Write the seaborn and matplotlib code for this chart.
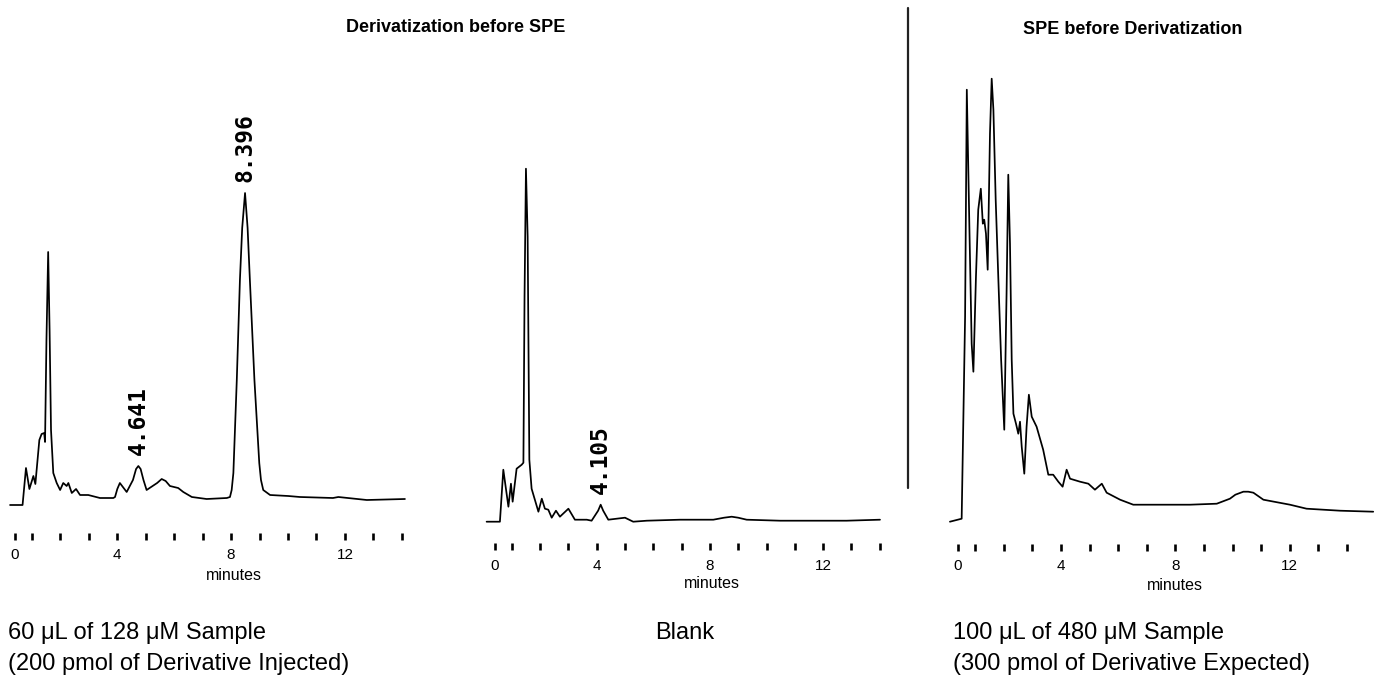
import numpy as np
import pandas as pd
import matplotlib
matplotlib.use("Agg")
import matplotlib.pyplot as plt
import seaborn as sns
from matplotlib.lines import Line2D

# ---------------- data ----------------
# Panel 1: Derivatization before SPE, 60 uL of 128 uM sample
p1_time = [0.23, 0.67, 0.79, 0.91, 1.05, 1.12, 1.26, 1.34, 1.43, 1.46, 1.51, 1.57,
           1.62, 1.67, 1.75, 1.87, 1.99, 2.10, 2.22, 2.28, 2.40, 2.55, 2.69, 2.98,
           3.39, 3.86, 3.92, 4.00, 4.09, 4.17, 4.33, 4.55, 4.66, 4.74, 4.82, 4.92,
           5.03, 5.40, 5.56, 5.70, 5.85, 6.14, 6.32, 6.62,
           7.14, 7.85, 7.96, 8.02, 8.08, 8.20, 8.31, 8.39, 8.49, 8.58, 8.66, 8.82,
           8.99, 9.05, 9.13, 9.37, 10.01, 10.42, 11.58, 11.77, 12.77, 14.11]
p1_signal = [0, 0, 37, 16, 29, 21, 65, 71, 72, 63, 165, 253,
             175, 75, 32, 22, 15, 22, 19, 22, 12, 16, 10, 10,
             7, 7, 8, 16, 22, 19, 13, 25, 36, 39, 36, 25,
             15, 22, 26, 24, 19, 17, 13, 8,
             6, 7, 8, 15, 32, 125, 225, 277, 312, 277, 225, 125,
             42, 25, 15, 10, 9, 8, 7, 8, 5, 6]
p1_peak_times = [4.74, 8.49]
p1_peak_labels = ["4.641", "8.396"]

# Panel 2: Blank
p2_time = [0.11, 0.58, 0.70, 0.88, 0.97, 1.03, 1.17, 1.35, 1.41, 1.45, 1.50, 1.56,
           1.62, 1.70, 1.94, 2.06, 2.17, 2.29, 2.41, 2.56, 2.70, 3.00, 3.23, 3.65,
           3.82, 4.05, 4.14, 4.23, 4.41, 5.00, 5.29, 5.77, 6.94, 8.12, 8.50, 8.77,
           9.00, 9.30, 10.48, 11.65, 12.83, 14.01]
p2_signal = [0, 0, 52, 15, 38, 20, 53, 57, 59, 225, 353, 285,
             62, 33, 10, 23, 13, 12, 4, 11, 5, 13, 2, 2,
             1, 11, 17, 11, 2, 4, 0, 1, 2, 2, 4, 5,
             4, 2, 1, 1, 1, 2]
p2_peak_times = [4.14]
p2_peak_labels = ["4.105"]

# Panel 3: SPE before Derivatization, 100 uL of 480 uM sample
p3_time = [0.12, 0.53, 0.65, 0.71, 0.80, 0.88, 0.94, 1.03, 1.11, 1.20, 1.27, 1.32,
           1.38, 1.44, 1.52, 1.58, 1.64, 1.72, 1.81, 1.91, 2.02, 2.10, 2.16, 2.22,
           2.28, 2.34, 2.43, 2.51, 2.57, 2.63, 2.72, 2.80, 2.88, 2.98, 3.15, 3.38,
           3.56, 3.73, 3.91, 4.06, 4.20, 4.32, 4.67, 4.96, 5.19, 5.43, 5.60, 6.07,
           6.53, 7.35, 8.51, 9.45, 9.91, 10.10, 10.38, 10.55, 10.73, 11.08, 12.01,
           12.59, 13.76, 14.92]
p3_signal = [0, 3, 205, 432, 295, 178, 150, 245, 312, 333, 298, 302,
             288, 252, 388, 443, 412, 322, 245, 162, 92, 228, 347, 278,
             162, 108, 98, 88, 100, 75, 48, 95, 127, 105, 95, 72,
             47, 47, 40, 35, 52, 43, 40, 38, 32, 38, 29, 22,
             17, 17, 17, 18, 23, 27, 30, 30, 29, 22, 17,
             13, 11, 10]

tick_minutes = [0.4, 1, 2, 3, 4, 5, 6, 7, 8, 9, 10, 11, 12, 13, 14]
tick_labels = ["0", "", "", "", "4", "", "", "", "8", "", "", "", "12", "", ""]

titles = ["Derivatization before SPE", "SPE before Derivatization"]
captions = [["60 \u03bcL of 128 \u03bcM Sample", "(200 pmol of Derivative Injected)"],
            ["Blank"],
            ["100 \u03bcL of 480 \u03bcM Sample", "(300 pmol of Derivative Expected)"]]

# ---------------- figure ----------------
sns.set_theme(style="white")
plt.rcParams["font.family"] = ["Liberation Sans", "DejaVu Sans"]
plt.rcParams["text.color"] = "black"
plt.rcParams["xtick.color"] = "black"

W, H = 1375, 675
fig = plt.figure(figsize=(W / 100, H / 100), dpi=100)
fig.patch.set_facecolor("white")


def fx(px):
    return px / W


def fy(py):
    return 1 - py / H


def add_panel(L, R, T, B, x0, s, base):
    ax = fig.add_axes([L / W, 1 - B / H, (R - L) / W, (B - T) / H])
    ax.set_xlim((L - x0) / s, (R - x0) / s)
    ax.set_ylim(base - B, base - T)
    ax.set_facecolor("none")
    for sp in ax.spines.values():
        sp.set_visible(False)
    ax.set_yticks([])
    ax.set_xticks(tick_minutes)
    ax.set_xticklabels(tick_labels)
    ax.tick_params(axis="x", direction="out", length=5, width=1.9, color="black",
                   pad=6, labelsize=11, labelcolor="black", bottom=True)
    return ax


def draw(ax, t, sgn, peak_t=(), peak_lab=()):
    df = pd.DataFrame({"minutes": t, "signal": sgn})
    sns.lineplot(data=df, x="minutes", y="signal", ax=ax, color="black",
                 linewidth=1.25, estimator=None, legend=False)
    ax.set_xlabel("")
    ax.set_ylabel("")
    for pt, lab in zip(peak_t, peak_lab):
        yv = float(np.interp(pt, t, sgn))
        ax.annotate(lab, xy=(pt, yv), xytext=(0, 8), textcoords="offset points",
                    rotation=90, ha="center", va="bottom", color="black",
                    fontfamily="DejaVu Sans Mono", fontweight="bold", fontsize=16.5)


ax1 = add_panel(0, 420, 60, 532.7, 3.5, 28.45, 505)
draw(ax1, p1_time, p1_signal, p1_peak_times, p1_peak_labels)
ax2 = add_panel(480, 900, 60, 543.3, 483.5, 28.3, 521.7)
draw(ax2, p2_time, p2_signal, p2_peak_times, p2_peak_labels)
ax3 = add_panel(940, 1375, 40, 544, 946.5, 28.6, 521.7)
draw(ax3, p3_time, p3_signal)

# "minutes" labels
for xp, yp in [(234, 575), (712, 584), (1175, 585)]:
    fig.text(fx(xp), fy(yp), "minutes", ha="center", va="center", fontsize=11.5)

# titles
fig.text(fx(456), fy(27), titles[0], ha="center", va="center", fontsize=13, fontweight="bold")
fig.text(fx(1133), fy(30), titles[1], ha="center", va="center", fontsize=13, fontweight="bold")

# captions
fig.text(fx(8), fy(633), captions[0][0], ha="left", va="center", fontsize=17)
fig.text(fx(8), fy(664), captions[0][1], ha="left", va="center", fontsize=17)
fig.text(fx(685), fy(633), captions[1][0], ha="center", va="center", fontsize=17)
fig.text(fx(953), fy(633), captions[2][0], ha="left", va="center", fontsize=17)
fig.text(fx(953), fy(664), captions[2][1], ha="left", va="center", fontsize=17)

# separator
fig.add_artist(Line2D([fx(908), fx(908)], [fy(8), fy(488)], color="#222222", linewidth=1.6))

fig.savefig("out.png", dpi=100, facecolor="white")
